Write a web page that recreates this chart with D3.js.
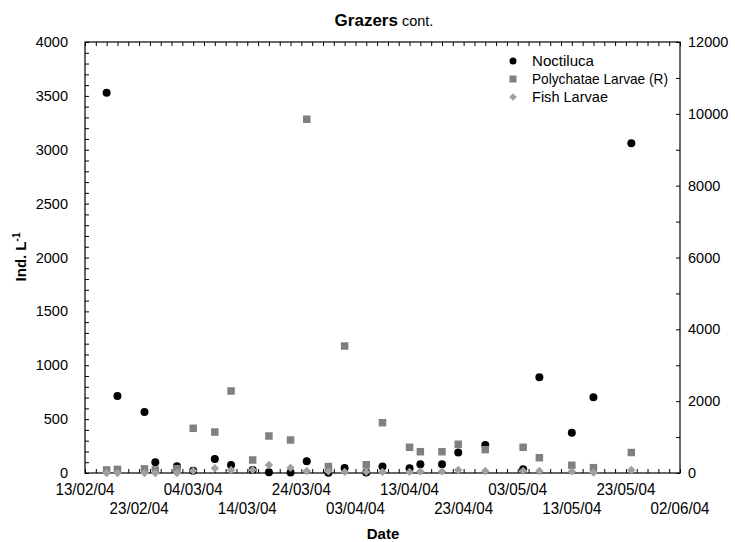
<!DOCTYPE html>
<html><head><meta charset="utf-8">
<script src="https://cdn.jsdelivr.net/npm/d3@7"></script>
<style>body{margin:0;background:#fff}svg{display:block}text{font-family:"Liberation Sans",Arial,sans-serif;fill:#000}</style>
</head><body><svg id="c" width="735" height="542"></svg>
<script>
const sampleDates = ["2004-02-17","2004-02-19","2004-02-24","2004-02-26","2004-03-01","2004-03-04","2004-03-08","2004-03-11","2004-03-15","2004-03-18","2004-03-22","2004-03-25","2004-03-29","2004-04-01","2004-04-05","2004-04-08","2004-04-13","2004-04-15","2004-04-19","2004-04-22","2004-04-27","2004-05-04","2004-05-07","2004-05-13","2004-05-17","2004-05-24"];
const noctiluca = [3530,715,566,99,62,20,130,74,28,8,4,108,2,46,5,60,44,81,81,190,260,35,888,374,702,3060];
const polychaete = [84,100,115,84,120,1245,1141,2283,362,1030,919,9850,180,3536,230,1400,715,593,593,800,650,715,426,215,148,570];
const fishLarvae = [0,0,0,0,0,20,44,28,28,74,49,19,15,10,10,10,10,15,15,28,19,20,19,15,5,28];
const xTickLabels = ["13/02/04","23/02/04","04/03/04","14/03/04","24/03/04","03/04/04","13/04/04","23/04/04","03/05/04","13/05/04","23/05/04","02/06/04"];
const leftTicks = [0,500,1000,1500,2000,2500,3000,3500,4000];
const rightTicks = [0,2000,4000,6000,8000,10000,12000];
const seriesNames = ["Noctiluca","Polychatae Larvae (R)","Fish Larvae"];

const parse = d3.utcParse("%Y-%m-%d");
const svg = d3.select("#c");
const L = 85, R = 680, T = 42, B = 473;
const x = d3.scaleUtc().domain([parse("2004-02-13"), parse("2004-06-02")]).range([L, R]);
const yL = d3.scaleLinear().domain([0, 4000]).range([B, T]);
const yR = d3.scaleLinear().domain([0, 12000]).range([B, T]);

// frame
svg.append("rect").attr("x", L).attr("y", T).attr("width", R - L).attr("height", B - T)
  .attr("fill", "none").attr("stroke", "#000").attr("stroke-width", 1.2);

const minorDays = d3.utcDays(x.domain()[0], d3.utcDay.offset(x.domain()[1], 1), 2);
const majorDays = d3.utcDays(x.domain()[0], d3.utcDay.offset(x.domain()[1], 1), 10);

// bottom/top axes (inward ticks)
const gB = svg.append("g").attr("transform", `translate(0,${B})`)
  .call(d3.axisBottom(x).tickValues(minorDays).tickSize(-4).tickFormat(""));
const gT = svg.append("g").attr("transform", `translate(0,${T})`)
  .call(d3.axisTop(x).tickValues(minorDays).tickSize(-4).tickFormat(""));
[gB, gT].forEach(g => { g.select(".domain").remove(); g.selectAll("line").attr("stroke", "#000"); });

// date labels, staggered
svg.append("g").selectAll("text").data(majorDays).join("text")
  .attr("x", d => x(d)).attr("y", (d, i) => i % 2 === 0 ? 495 : 514)
  .attr("text-anchor", "middle").attr("font-size", 16.5)
  .attr("textLength", 59).attr("lengthAdjust", "spacingAndGlyphs")
  .text((d, i) => xTickLabels[i]);

// left axis
const gL = svg.append("g").attr("transform", `translate(${L},0)`)
  .call(d3.axisLeft(yL).tickValues(d3.range(0, 4001, 100)).tickSize(-4).tickFormat(""));
gL.select(".domain").remove(); gL.selectAll("line").attr("stroke", "#000");
svg.append("g").selectAll("text").data(leftTicks).join("text")
  .attr("x", 68).attr("y", d => yL(d) + 5).attr("text-anchor", "end").attr("font-size", 14.5)
  .text(d => d);

// right axis
const gR = svg.append("g").attr("transform", `translate(${R},0)`)
  .call(d3.axisRight(yR).tickValues(d3.range(0, 12001, 1000)).tickSize(-4).tickFormat(""));
gR.select(".domain").remove(); gR.selectAll("line").attr("stroke", "#000");
svg.append("g").selectAll("text").data(rightTicks).join("text")
  .attr("x", 688).attr("y", d => yR(d) + 5).attr("text-anchor", "start").attr("font-size", 14.5)
  .text(d => d);

// data
const dates = sampleDates.map(parse);
const sq = 7.5;
svg.append("g").selectAll("circle").data(dates).join("circle")
  .attr("cx", d => x(d)).attr("cy", (d, i) => yL(noctiluca[i])).attr("r", 4).attr("fill", "#000");
svg.append("g").selectAll("rect").data(dates).join("rect")
  .attr("x", d => x(d) - sq / 2).attr("y", (d, i) => yR(polychaete[i]) - sq / 2)
  .attr("width", sq).attr("height", sq).attr("fill", "#808080");
const dm = 4.2;
const diamondPath = `M0,${-dm}L${dm},0L0,${dm}L${-dm},0Z`;
svg.append("g").selectAll("path").data(dates).join("path")
  .attr("transform", (d, i) => `translate(${x(d)},${yL(fishLarvae[i])})`)
  .attr("d", diamondPath).attr("fill", "#a0a0a0");

// legend
const lg = svg.append("g");
const ly = [61, 79, 97];
lg.append("circle").attr("cx", 513).attr("cy", ly[0]).attr("r", 3.5).attr("fill", "#000");
lg.append("rect").attr("x", 509.5).attr("y", ly[1] - 3.5).attr("width", 7).attr("height", 7).attr("fill", "#808080");
lg.append("path").attr("transform", `translate(513,${ly[2]})`).attr("d", "M0,-3.8L3.8,0L0,3.8L-3.8,0Z").attr("fill", "#a0a0a0");
const legendWidths = [62, 136, 76];
lg.selectAll("text").data(seriesNames).join("text")
  .attr("x", 532).attr("y", (d, i) => ly[i] + 5).attr("font-size", 15)
  .attr("textLength", (d, i) => legendWidths[i]).attr("lengthAdjust", "spacingAndGlyphs")
  .text(d => d);

// title
const t = svg.append("text").attr("x", 384).attr("y", 26).attr("text-anchor", "middle");
t.append("tspan").attr("font-weight", "bold").attr("font-size", 17).text("Grazers");
t.append("tspan").attr("font-size", 14.5).text(" cont.");

// axis titles
svg.append("text").attr("x", 383).attr("y", 539).attr("text-anchor", "middle")
  .attr("font-weight", "bold").attr("font-size", 15).text("Date");
const yt = svg.append("text").attr("transform", "translate(26,257) rotate(-90)").attr("text-anchor", "middle")
  .attr("font-weight", "bold").attr("font-size", 15);
yt.append("tspan").text("Ind. L");
yt.append("tspan").attr("dy", -6).attr("font-size", 10).text("-1");
</script></body></html>
